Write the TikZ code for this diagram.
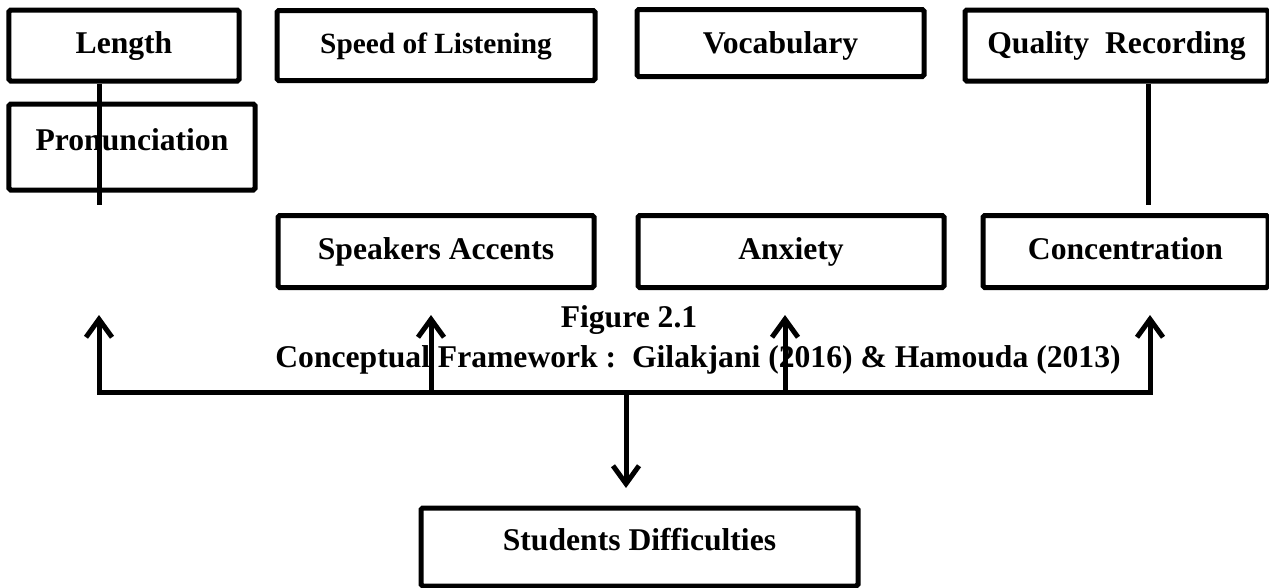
\documentclass[tikz,border=0pt]{standalone}
\usepackage{fontspec}
\setmainfont{Liberation Serif}
\usepackage{tikz}
\usetikzlibrary{positioning, arrows.meta}
\tikzstyle{factor} = [rectangle, rounded corners=1pt, minimum height=1.42cm, text height=0.44cm, text depth=0.12cm, text centered, draw=black, line width=0.1cm, font=\fontsize{18}{21}\selectfont\bfseries]
\tikzstyle{caption} = [font=\fontsize{18}{21}\selectfont\bfseries]
\tikzstyle{link} = [line width=0.1cm]
\tikzstyle{arrow} = [line width=0.1cm, -{Straight Barb[length=0.36cm, width=0.52cm]}]

\begin{document}
\begin{tikzpicture}
	\useasboundingbox (0,0) rectangle (25.38,-11.74);
	
	% Nodes
	\node (len) [factor, minimum width=4.6cm] at (2.48,-0.91) {Length};
	\node (speed) [factor, minimum width=6.36cm, minimum height=1.40cm, right=0.66cm of len, font=\fontsize{16.7}{20}\selectfont\bfseries] {Speed of Listening};
	\node (voc) [factor, minimum width=5.74cm, minimum height=1.34cm, text depth=0.04cm, right=0.74cm of speed, yshift=0.05cm] {Vocabulary};
	\node (qual) [factor, minimum width=6.06cm, right=0.72cm of voc, yshift=-0.05cm] {Quality\ \ Recording};
	\node (pron) [factor, minimum width=4.92cm, minimum height=1.72cm, text depth=0.30cm, below=0.36cm of len.south west, anchor=north west] {Pronunciation};
	\node (spk) [factor, minimum width=6.32cm, minimum height=1.44cm, below=2.60cm of speed] {Speakers Accents};
	\node (anx) [factor, minimum width=6.12cm, minimum height=1.44cm, right=0.78cm of spk] {Anxiety};
	\node (conc) [factor, minimum width=5.7cm, minimum height=1.44cm, right=0.68cm of anx] {Concentration};
	\node (stud) [factor, minimum width=8.74cm, minimum height=1.56cm, text depth=0.30cm] at (12.79,-10.94) {Students Difficulties};
	
	% Caption
	\node (figno) [caption] at (12.58,-6.40) {Figure 2.1};
	\node (figcap) [caption] at (13.96,-7.20) {Conceptual Framework :\ \ Gilakjani (2016) \& Hamouda (2013)};
	
	% Coordinates
	\coordinate (lenEnd) at (1.98,-4.10);
	\coordinate (qualEnd) at (22.96,-4.10);
	\coordinate (busL) at (1.98,-7.84);
	\coordinate (busR) at (23.00,-7.84);
	\coordinate (tipL) at (1.98,-6.30);
	\coordinate (tipS) at (8.62,-6.30);
	\coordinate (tipA) at (15.70,-6.30);
	\coordinate (tipC) at (23.00,-6.30);
	\coordinate (drop) at (12.52,-7.84);
	\coordinate (tipD) at (12.52,-9.76);
	
	% Arrows
	\draw [link] (len.south -| lenEnd) -- (lenEnd);
	\draw [link] (qual.south -| qualEnd) -- (qualEnd);
	\draw [arrow] (busR) -- (busL) -- (tipL);
	\draw [arrow] (busL) -- (busR) -- (tipC);
	\draw [arrow] (tipS |- busL) -- (tipS);
	\draw [arrow] (tipA |- busL) -- (tipA);
	\draw [arrow] (drop) -- (tipD);
	
\end{tikzpicture}
\end{document}
